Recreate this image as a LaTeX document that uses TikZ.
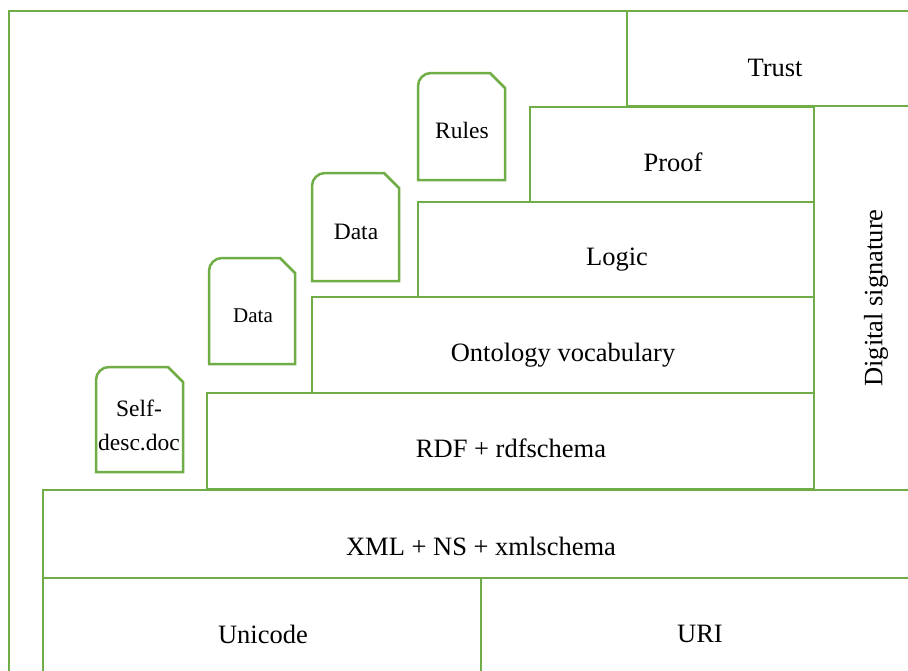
\documentclass[tikz,border=0pt]{standalone}
\usepackage{fontspec}
\setmainfont{Liberation Serif}
\definecolor{lgreen}{HTML}{70AD47}
\tikzset{
  frame/.style={draw=lgreen, line width=2.5pt},
  lbl/.style={font=\fontsize{26.5}{30}\selectfont, inner sep=0pt},
  dlbl/.style={font=\fontsize{23.5}{34}\selectfont, inner sep=0pt, align=center},
}
\newcommand\mydoc[4]{% x1 y1 x2 y2
  \draw[frame] (#1,#4) [rounded corners=13pt] -- (#1,#2) [sharp corners] -- ({#3-15},#2) -- (#3,{#2+15}) -- (#3,#4) -- cycle;}
\begin{document}
\begin{tikzpicture}[x=1pt,y=-1pt]
\useasboundingbox (0,0) rectangle (908,670);
\clip (0,0) rectangle (908,670);
% outer frame
\draw[frame] (9,11) rectangle (1000,1000);
% layers
\draw[frame] (627,11) rectangle (1000,106);
\draw[frame] (814,106) rectangle (1000,490);
\draw[frame] (530,107) rectangle (814,202);
\draw[frame] (418,202) rectangle (814,297);
\draw[frame] (312,297) rectangle (814,393);
\draw[frame] (207,393) rectangle (814,489);
\draw[frame] (43,490) rectangle (1000,578);
\draw[frame] (43,578) rectangle (481,1000);
\draw[frame] (481,578) rectangle (1000,1000);
% documents
\mydoc{96}{367}{183}{472}
\mydoc{209}{258}{295}{364}
\mydoc{312}{173}{399}{281}
\mydoc{418}{73}{505}{180}
% labels
\node[lbl] (trust) at (775,68) {Trust};
\node[lbl] (proof) at (673,162) {Proof};
\node[lbl] (logic) at (617,260) {Logic};
\node[lbl] (onto) at (563,355) {Ontology vocabulary};
\node[lbl] (rdf) at (511,448) {RDF + rdfschema};
\node[lbl] (xml) at (481,546) {XML + NS + xmlschema};
\node[lbl] (uni) at (263,634) {Unicode};
\node[lbl] (uri) at (700,634) {URI};
\node[lbl, rotate=90] (sig) at (876,298) {Digital signature};
\node[dlbl] (self) at (139,425) {Self-\\desc.doc};
\node[dlbl, font=\fontsize{21}{25}\selectfont] (data1) at (253,316) {Data};
\node[dlbl] (data2) at (356,232) {Data};
\node[dlbl] (rules) at (462,130) {Rules};
\end{tikzpicture}
\end{document}
